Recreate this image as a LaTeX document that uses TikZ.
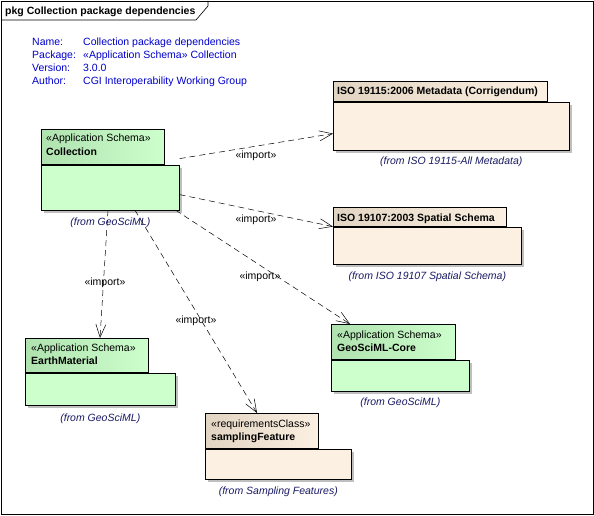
\documentclass[tikz,border=0pt]{standalone}
\usepackage{fontspec}
\setmainfont{Liberation Sans}
\usetikzlibrary{arrows.meta,positioning,shadows}
\definecolor{pkggreen}{RGB}{204,255,204}
\definecolor{pkggreentab}{RGB}{176,226,176}
\definecolor{pkgbeige}{RGB}{251,240,226}
\definecolor{pkgbeigetab}{RGB}{226,212,194}
\definecolor{notetext}{RGB}{0,0,204}
\definecolor{fromtext}{RGB}{25,25,100}
\tikzset{
	x=1pt, y=-1pt,
	every node/.style={font=\fontsize{10.5}{13}\selectfont, inner sep=0pt},
	pkgtab/.style={draw, anchor=north west, line width=0.6pt},
	pkgbody/.style={draw, anchor=north west, line width=0.6pt,
		drop shadow={shadow xshift=3pt, shadow yshift=-3pt, fill=black!25, opacity=1}},
	stereo/.style={anchor=base west},
	fromlbl/.style={anchor=base, font=\fontsize{10.5}{13}\selectfont\itshape, text=fromtext},
	import/.style={draw, line width=0.5pt, dash pattern=on 6pt off 4pt,
		-{Straight Barb[length=13pt, width=10pt, line width=0.5pt]}},
}
% name, tab corner, tab width : tab height : body width : body height, colour
\def\umlpkg[#1](#2)(#3:#4:#5:#6)#7{%
	\node[pkgtab, left color=#7tab, right color=#7, minimum width=#3, minimum height=#4] (#1tab) at (#2) {};
	\node[pkgbody, fill=#7, minimum width=#5, minimum height=#6] (#1body) at (#1tab.south west) {};
}

\begin{document}
\begin{tikzpicture}
				%%%%% START %%%%%
				\useasboundingbox (0,0) rectangle (594,516);
				\draw[line width=0.6pt] (1,1) rectangle (593,514);
				\draw[line width=0.6pt] (1,20) -- (196,20) -- (208,6) -- (208,1);
				\node[anchor=base west] (title) at (5,15) {\textbf{pkg Collection package dependencies}};
				
				% notes
				\foreach \k/\v [count=\i] in {Name:/Collection package dependencies,
						Package:/«Application Schema» Collection,
						Version:/3.0.0,
						Author:/CGI Interoperability Working Group} {
					\node[anchor=base west, text=notetext] (key\i) at (32, 33+13*\i) {\k};
					\node[anchor=base west, text=notetext] (val\i) at (83, 33+13*\i) {\v};
				}
				
				% packages
				\umlpkg[col](41,129)(123:35:138:45){pkggreen}
				\node[stereo] (coltype) at ([shift={(5,13)}]coltab.north west) {«Application Schema»};
				\node[stereo] (colname) at ([shift={(5,26)}]coltab.north west) {\textbf{Collection}};
				\node[fromlbl] (colfrom) at ([yshift=-15pt]colbody.south) {(from GeoSciML)};
				
				\umlpkg[isoa](333,81)(214:20:236:48){pkgbeige}
				\node[stereo] (isoaname) at ([shift={(4,14)}]isoatab.north west) {\textbf{ISO 19115:2006 Metadata (Corrigendum)}};
				\node[fromlbl] (isoafrom) at ([yshift=-14pt]isoabody.south) {(from ISO 19115-All Metadata)};
				
				\umlpkg[isob](333,207)(173:19:188:37){pkgbeige}
				\node[stereo] (isobname) at ([shift={(4,14)}]isobtab.north west) {\textbf{ISO 19107:2003 Spatial Schema}};
				\node[fromlbl] (isobfrom) at ([yshift=-15pt]isobbody.south) {(from ISO 19107 Spatial Schema)};
				
				\umlpkg[em](25,338)(123:34:150:32){pkggreen}
				\node[stereo] (emtype) at ([shift={(6,13)}]emtab.north west) {«Application Schema»};
				\node[stereo] (emname) at ([shift={(6,26)}]emtab.north west) {\textbf{EarthMaterial}};
				\node[fromlbl] (emfrom) at ([yshift=-16pt]embody.south) {(from GeoSciML)};
				
				\umlpkg[sf](205,413)(113:35:146:30){pkgbeige}
				\node[stereo] (sftype) at ([shift={(6,14)}]sftab.north west) {«requirementsClass»};
				\node[stereo] (sfname) at ([shift={(6,27)}]sftab.north west) {\textbf{samplingFeature}};
				\node[fromlbl] (sffrom) at ([yshift=-15pt]sfbody.south) {(from Sampling Features)};
				
				\umlpkg[core](331,324)(124:35:138:31){pkggreen}
				\node[stereo] (coretype) at ([shift={(6,14)}]coretab.north west) {«Application Schema»};
				\node[stereo] (corename) at ([shift={(6,27)}]coretab.north west) {\textbf{GeoSciML-Core}};
				\node[fromlbl] (corefrom) at ([yshift=-14pt]corebody.south) {(from GeoSciML)};
				
				% imports
				\draw[import] ([yshift=6pt]colbody.north east) -- ([yshift=-32pt]isoabody.north west);
				\draw[import] ([yshift=-30pt]colbody.north east) -- (isobbody.north west);
				\draw[import] ([xshift=-4pt]colbody.south east) -- ([xshift=19pt]coretab.north west);
				\draw[import] ([xshift=94pt]colbody.south west) -- ([xshift=52pt]sftab.north west);
				\draw[import] ([xshift=67pt]colbody.south west) -- ([xshift=75pt]emtab.north west);
				
				\node (imp1) at (256,156) {«import»};
				\node (imp2) at (256,220) {«import»};
				\node (imp3) at (260,277) {«import»};
				\node (imp4) at (196,321) {«import»};
				\node (imp5) at (105,283) {«import»};
				%%%%% END %%%%%
\end{tikzpicture}
\end{document}
